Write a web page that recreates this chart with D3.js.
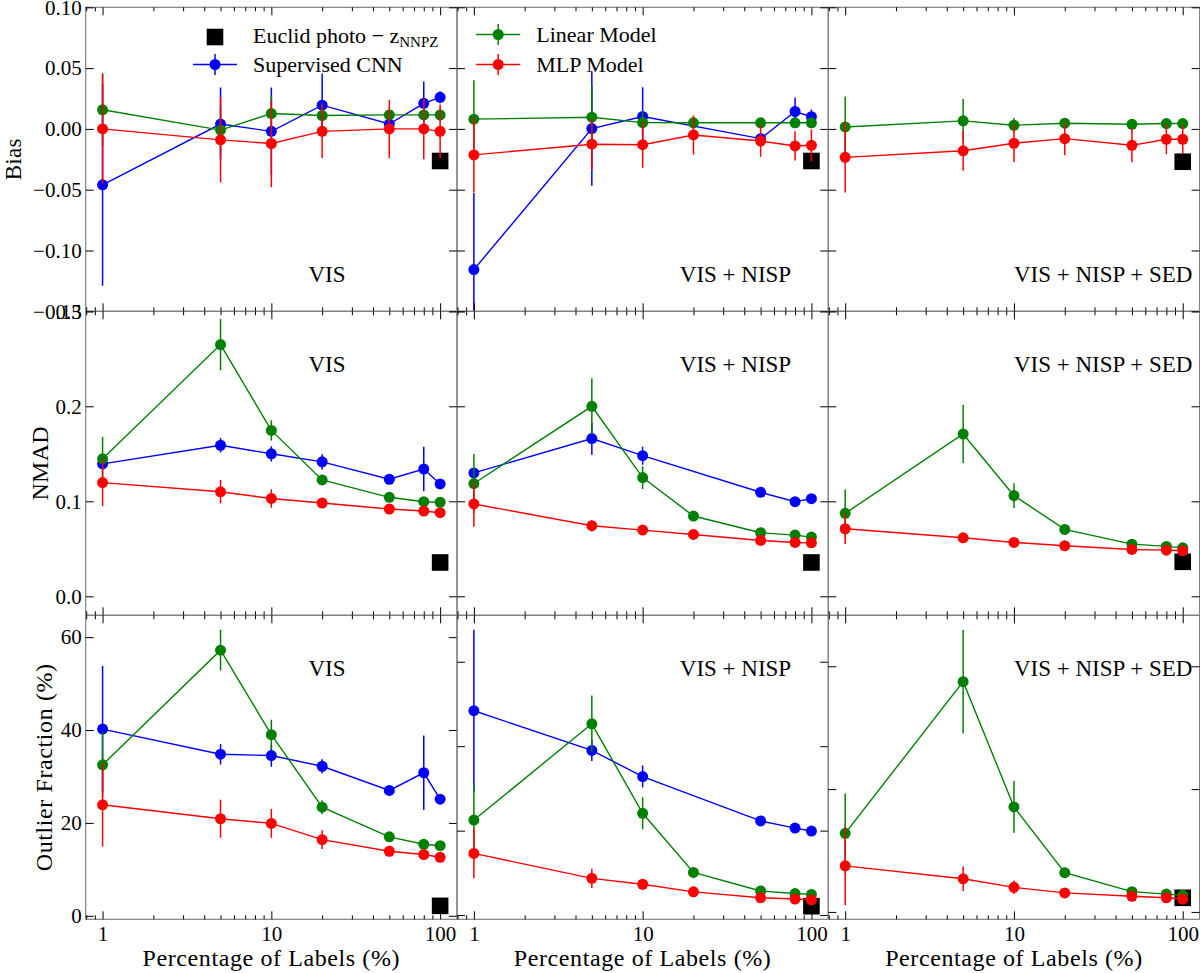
<!DOCTYPE html>
<html>
<head>
<meta charset="utf-8">
<script src="https://d3js.org/d3.v7.min.js"></script>
<style>
  body { margin: 0; background: #fff; }
</style>
</head>
<body>
<svg id="fig" width="1200" height="973"></svg>
<script>
// percentage of labels used for training
const pct = [1, 5, 10, 20, 50, 80, 100];

// Bias -- VIS
const biasVisCNN    = [-0.046, 0.004, -0.002, 0.0195, 0.004, 0.021, 0.026];
const biasVisCNNErr = [0.083, 0.030, 0.036, 0.026, 0.006, 0.018, 0.005];
const biasVisLin    = [0.0157, -0.001, 0.0126, 0.011, 0.0115, 0.0115, 0.0115];
const biasVisLinErr = [0.030, 0.020, 0.015, 0.010, 0.005, 0.005, 0.005];
const biasVisMLP    = [0.0, -0.009, -0.012, -0.002, 0.0, 0.0, -0.002];
const biasVisMLPErr = [0.045, 0.035, 0.036, 0.022, 0.024, 0.025, 0.022];
// Bias -- VIS + NISP
const biasNispCNN    = [-0.1157, 0.0003, 0.0102, null, -0.008, 0.0143, 0.010];
const biasNispCNNErr = [0.063, 0.047, 0.024, null, 0.004, 0.0115, 0.006];
const biasNispLin    = [0.008, 0.0096, 0.0052, 0.005, 0.005, 0.005, 0.005];
const biasNispLinErr = [0.032, 0.026, 0.010, 0.005, 0.004, 0.004, 0.004];
const biasNispMLP    = [-0.0214, -0.0126, -0.013, -0.005, -0.010, -0.014, -0.0135];
const biasNispMLPErr = [0.031, 0.021, 0.019, 0.016, 0.013, 0.012, 0.013];
// Bias -- VIS + NISP + SED
const biasSedLin    = [0.0016, 0.0066, 0.003, 0.0047, 0.0038, 0.0044, 0.0044];
const biasSedLinErr = [0.025, 0.018, 0.006, 0.003, 0.003, 0.003, 0.003];
const biasSedMLP    = [-0.0234, -0.018, -0.0118, -0.008, -0.0135, -0.0085, -0.0085];
const biasSedMLPErr = [0.029, 0.0165, 0.0154, 0.0137, 0.014, 0.0124, 0.012];

// NMAD
const nmadVisCNN    = [0.1394, 0.159, 0.150, 0.1415, 0.1232, 0.134, 0.1183];
const nmadVisCNNErr = [0.004, 0.0077, 0.008, 0.008, 0.003, 0.0235, 0.003];
const nmadVisLin    = [0.1447, 0.265, 0.1746, 0.1225, 0.1042, 0.0996, 0.099];
const nmadVisLinErr = [0.023, 0.027, 0.0106, 0.003, 0.002, 0.002, 0.002];
const nmadVisMLP    = [0.1197, 0.110, 0.103, 0.0982, 0.0919, 0.0898, 0.088];
const nmadVisMLPErr = [0.025, 0.0123, 0.0097, 0.003, 0.002, 0.002, 0.002];
const nmadNispCNN    = [0.1299, 0.166, 0.148, null, 0.1095, 0.0996, 0.1028];
const nmadNispCNNErr = [0.005, 0.017, 0.0095, null, 0.002, 0.002, 0.002];
const nmadNispLin    = [0.1187, 0.200, 0.125, 0.0845, 0.0669, 0.0644, 0.0623];
const nmadNispLinErr = [0.031, 0.0296, 0.012, 0.002, 0.002, 0.002, 0.002];
const nmadNispMLP    = [0.0972, 0.0743, 0.0697, 0.0651, 0.0588, 0.0567, 0.0563];
const nmadNispMLPErr = [0.024, 0.006, 0.003, 0.002, 0.002, 0.002, 0.002];
const nmadSedLin    = [0.0873, 0.1708, 0.106, 0.0704, 0.0549, 0.0525, 0.051];
const nmadSedLinErr = [0.025, 0.0306, 0.013, 0.002, 0.002, 0.002, 0.002];
const nmadSedMLP    = [0.0711, 0.0616, 0.0567, 0.0532, 0.0493, 0.0486, 0.0479];
const nmadSedMLPErr = [0.016, 0.005, 0.002, 0.002, 0.002, 0.002, 0.002];

// Outlier fraction (%)
const outVisCNN    = [40.2, 34.8, 34.5, 32.2, 27.0, 30.8, 25.1];
const outVisCNNErr = [13.6, 2.2, 2.4, 1.5, 0.8, 8.0, 0.8];
const outVisLin    = [32.5, 57.2, 39.0, 23.4, 17.0, 15.4, 15.1];
const outVisLinErr = [7.0, 4.4, 3.2, 1.5, 0.6, 0.6, 0.6];
const outVisMLP    = [23.9, 20.9, 19.9, 16.4, 13.9, 13.2, 12.6];
const outVisMLPErr = [9.0, 4.1, 3.1, 2.0, 0.8, 1.2, 1.0];
const outNispCNN    = [48.4, 39.0, 32.8, null, 22.3, 20.6, 19.9];
const outNispCNNErr = [19.2, 2.5, 2.6, null, 0.7, 0.7, 0.7];
const outNispLin    = [22.5, 45.3, 24.1, 10.1, 5.7, 5.1, 4.9];
const outNispLinErr = [8.7, 6.7, 3.8, 1.0, 0.5, 0.5, 0.5];
const outNispMLP    = [14.6, 8.7, 7.3, 5.5, 4.1, 3.8, 3.6];
const outNispMLPErr = [5.9, 2.3, 1.3, 0.8, 0.5, 0.5, 0.5];
const outSedLin    = [12.8, 37.5, 17.1, 6.4, 3.3, 2.9, 2.7];
const outSedLinErr = [6.5, 8.4, 4.2, 0.8, 0.4, 0.4, 0.4];
const outSedMLP    = [7.5, 5.4, 4.0, 3.1, 2.55, 2.3, 2.1];
const outSedMLPErr = [6.4, 2.0, 1.1, 0.6, 0.4, 0.4, 0.4];

// Euclid photo-z (NNPZ) reference at 100 %
const euclidBias = [-0.0264, -0.0264, -0.027];
const euclidNmad = [0.0356, 0.0356, 0.0363];
const euclidOut  = [2.15, 2.1, 2.3];

const inputLabels  = ["VIS", "VIS + NISP", "VIS + NISP + SED"];
const metricLabels = ["Bias", "NMAD", "Outlier Fraction (%)"];
const biasTicks = [-0.15, -0.10, -0.05, 0.00, 0.05, 0.10];
const nmadTicks = [0.0, 0.1, 0.2, 0.3];
const outTicks  = [0, 20, 40, 60];
const xTickLabels = [1, 10, 100];

const colors = { cnn: "#0000ff", lin: "#008000", mlp: "#ff0000" };

// ---- layout ----
const padL = 85.7, padT = 7.3, pw = 371.3, ph = 304;
const fs = 21;
const serif = "'Liberation Serif', 'Times New Roman', serif";

const S = (key, v, e) => ({ key, v, e });
const grid = [
  [
    { series: [S("cnn", biasVisCNN, biasVisCNNErr), S("lin", biasVisLin, biasVisLinErr), S("mlp", biasVisMLP, biasVisMLPErr)], ref: euclidBias[0] },
    { series: [S("cnn", biasNispCNN, biasNispCNNErr), S("lin", biasNispLin, biasNispLinErr), S("mlp", biasNispMLP, biasNispMLPErr)], ref: euclidBias[1] },
    { series: [S("lin", biasSedLin, biasSedLinErr), S("mlp", biasSedMLP, biasSedMLPErr)], ref: euclidBias[2] }
  ],
  [
    { series: [S("cnn", nmadVisCNN, nmadVisCNNErr), S("lin", nmadVisLin, nmadVisLinErr), S("mlp", nmadVisMLP, nmadVisMLPErr)], ref: euclidNmad[0] },
    { series: [S("cnn", nmadNispCNN, nmadNispCNNErr), S("lin", nmadNispLin, nmadNispLinErr), S("mlp", nmadNispMLP, nmadNispMLPErr)], ref: euclidNmad[1] },
    { series: [S("lin", nmadSedLin, nmadSedLinErr), S("mlp", nmadSedMLP, nmadSedMLPErr)], ref: euclidNmad[2] }
  ],
  [
    { series: [S("cnn", outVisCNN, outVisCNNErr), S("lin", outVisLin, outVisLinErr), S("mlp", outVisMLP, outVisMLPErr)], ref: euclidOut[0] },
    { series: [S("cnn", outNispCNN, outNispCNNErr), S("lin", outNispLin, outNispLinErr), S("mlp", outNispMLP, outNispMLPErr)], ref: euclidOut[1] },
    { series: [S("lin", outSedLin, outSedLinErr), S("mlp", outSedMLP, outSedMLPErr)], ref: euclidOut[2] }
  ]
];

const rowCfg = [
  { domains: [[-0.15, 0.10], [-0.15, 0.10], [-0.15, 0.10]], ticks: biasTicks, fmt: d3.format(".2f") },
  { domains: [[-0.02, 0.30], [-0.02, 0.30], [-0.02, 0.30]], ticks: nmadTicks, fmt: d3.format(".1f") },
  { domains: [[-0.75, 64.7], [-1.0, 71.0], [-1.2, 48.3]], ticks: outTicks, fmt: d3.format("d") }
];

const svg = d3.select("#fig");
const x = d3.scaleLog().domain([Math.pow(10, -0.1), Math.pow(10, 2.1)]).range([0, pw]);
const minorTicks = [];
[0.1, 1, 10, 100].forEach(dec => {
  for (let k = 2; k <= 9; k++) {
    const v = dec * k;
    if (v >= x.domain()[0] && v <= x.domain()[1]) minorTicks.push(v);
  }
});
const line = d3.line().x(d => x(d.x)).y(d => d.yv);

svg.append("defs").append("clipPath").attr("id", "clip")
  .append("rect").attr("width", pw).attr("height", ph);

function styleAxis(g) {
  g.attr("font-family", serif);
  g.select(".domain").remove();
  g.selectAll(".tick line").attr("stroke", "#000").attr("stroke-width", 1);
  g.selectAll(".tick text").attr("font-size", fs).attr("fill", "#000");
}

grid.forEach((row, r) => {
  row.forEach((cell, c) => {
    const g = svg.append("g").attr("transform", `translate(${padL + c * pw},${padT + r * ph})`);
    const y = d3.scaleLinear().domain(rowCfg[r].domains[c]).range([ph, 0]);
    const yt = rowCfg[r].ticks.filter(t => t >= y.domain()[0] - 1e-9 && t <= y.domain()[1] + 1e-9);

    const plot = g.append("g").attr("clip-path", "url(#clip)");
    // Euclid reference square
    plot.append("rect")
      .attr("x", x(100) - 8.3).attr("y", y(cell.ref) - 8.3)
      .attr("width", 16.6).attr("height", 16.6).attr("fill", "#000");

    cell.series.forEach(s => {
      const ok = pct.map((p, i) => ({ x: p, v: s.v[i], e: s.e[i] }))
        .filter(d => d.v != null)
        .map(d => Object.assign(d, { yv: y(d.v) }));
      const sg = plot.append("g");
      sg.selectAll("line.err").data(ok).join("line").attr("class", "err")
        .attr("x1", d => x(d.x)).attr("x2", d => x(d.x))
        .attr("y1", d => y(d.v - d.e)).attr("y2", d => y(d.v + d.e))
        .attr("stroke", colors[s.key]).attr("stroke-width", 1.5);
      sg.append("path").datum(ok).attr("d", line)
        .attr("fill", "none").attr("stroke", colors[s.key]).attr("stroke-width", 1.4);
      sg.selectAll("circle").data(ok).join("circle")
        .attr("cx", d => x(d.x)).attr("cy", d => y(d.v)).attr("r", 5.5)
        .attr("fill", colors[s.key]);
    });

    // frame
    g.append("rect").attr("width", pw).attr("height", ph)
      .attr("fill", "none").attr("stroke", "#808080").attr("stroke-width", 1.2);

    // y axes (ticks inward)
    const yl = g.append("g").call(d3.axisLeft(y).tickValues(yt).tickSize(-8).tickPadding(4)
      .tickFormat(c === 0 ? rowCfg[r].fmt : ""));
    styleAxis(yl);
    const yr = g.append("g").attr("transform", `translate(${pw},0)`)
      .call(d3.axisRight(y).tickValues(yt).tickSize(-8).tickFormat(""));
    styleAxis(yr);

    // x axes (ticks inward, top and bottom)
    const xb = g.append("g").attr("transform", `translate(0,${ph})`)
      .call(d3.axisBottom(x).tickValues(xTickLabels).tickSize(-8).tickPadding(7)
        .tickFormat(r === 2 ? d3.format("d") : ""));
    styleAxis(xb);
    const xbm = g.append("g").attr("transform", `translate(0,${ph})`)
      .call(d3.axisBottom(x).tickValues(minorTicks).tickSize(-4).tickFormat(""));
    styleAxis(xbm);
    const xt = g.append("g").call(d3.axisTop(x).tickValues(xTickLabels).tickSize(-8).tickFormat(""));
    styleAxis(xt);
    const xtm = g.append("g").call(d3.axisTop(x).tickValues(minorTicks).tickSize(-4).tickFormat(""));
    styleAxis(xtm);

    // panel annotation
    g.append("text")
      .attr("x", c === 2 ? pw * 0.5 : pw * 0.6)
      .attr("y", r === 0 ? ph - 29.6 : 61)
      .attr("font-family", serif).attr("font-size", 23)
      .text(inputLabels[c]);

    if (r === 2) {
      g.append("text").attr("x", pw / 2).attr("y", ph + 47).attr("text-anchor", "middle")
        .attr("font-family", serif).attr("font-size", 24).attr("letter-spacing", 0.6)
        .text("Percentage of Labels (%)");
    }
  });
});

// y labels
const yLabelX = [21, 48, 52.3];
metricLabels.forEach((lab, r) => {
  svg.append("text")
    .attr("transform", `translate(${yLabelX[r]},${padT + r * ph + ph / 2}) rotate(-90)`)
    .attr("text-anchor", "middle").attr("font-family", serif).attr("font-size", r === 0 ? 23 : 24)
    .attr("letter-spacing", r === 2 ? 0.6 : 0.3)
    .text(lab);
});

// legends
function legendEntry(g, hx, hy, tx, key, label) {
  if (key === "euclid") {
    g.append("rect").attr("x", hx - 8.3).attr("y", hy - 8.3 + 1.2).attr("width", 16.6).attr("height", 16.6).attr("fill", "#000");
  } else {
    g.append("line").attr("x1", hx - 22).attr("x2", hx + 22).attr("y1", hy).attr("y2", hy)
      .attr("stroke", colors[key]).attr("stroke-width", 1.4);
    g.append("line").attr("x1", hx).attr("x2", hx).attr("y1", hy - 10.5).attr("y2", hy + 10.5)
      .attr("stroke", colors[key]).attr("stroke-width", 1.5);
    g.append("circle").attr("cx", hx).attr("cy", hy).attr("r", 5.5).attr("fill", colors[key]);
  }
  const t = g.append("text").attr("x", tx).attr("y", hy + 7.5)
    .attr("font-family", serif).attr("font-size", 22);
  if (key === "euclid") {
    t.text("Euclid photo − z");
    t.append("tspan").attr("font-size", 15).attr("dy", 4).text("NNPZ");
  } else {
    t.text(label);
  }
}
const lg1 = svg.append("g").attr("transform", `translate(${padL},${padT})`);
legendEntry(lg1, 129.3, 28.5, 167.3, "euclid");
legendEntry(lg1, 129.3, 57.2, 167.3, "cnn", "Supervised CNN");
const lg2 = svg.append("g").attr("transform", `translate(${padL + pw},${padT})`);
legendEntry(lg2, 41.2, 27.2, 79.3, "lin", "Linear Model");
legendEntry(lg2, 41.2, 57.2, 79.3, "mlp", "MLP Model");
</script>
</body>
</html>
